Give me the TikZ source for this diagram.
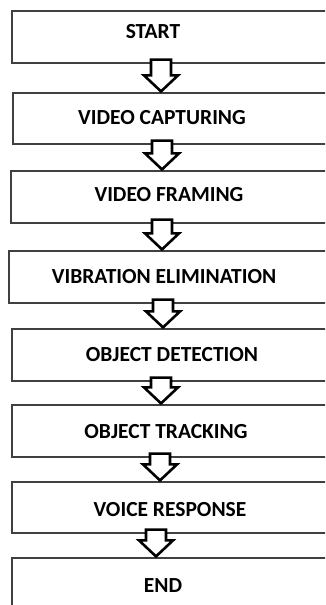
\documentclass[tikz,border=0pt]{standalone}
\usepackage{fontspec}
\setmainfont{Carlito}
\usetikzlibrary{calc}
\begin{document}
\begin{tikzpicture}[x=1pt,y=-1pt,
  box/.style={draw=black!75, line width=1.2pt, rectangle, inner sep=0pt, fill=white},
  lbl/.style={font=\fontsize{21.5}{24}\selectfont\bfseries, inner sep=0pt, text=black},
  arr/.style={draw=black, line width=2.6pt, fill=white, line join=miter}]
\useasboundingbox (0,0) rectangle (325,605);
\clip (0,0) rectangle (325,605);
\fill[white] (0,0) rectangle (325,605);
% boxes: left, top, bottom ; right edge beyond picture
\node[box, minimum width=330pt, minimum height=52pt] (b1) at (177,37) {};
\node[box, minimum width=330pt, minimum height=51pt] (b2) at (178,118.5) {};
\node[box, minimum width=330pt, minimum height=52pt] (b3) at (176,197) {};
\node[box, minimum width=330pt, minimum height=52pt] (b4) at (174,277) {};
\node[box, minimum width=330pt, minimum height=52pt] (b5) at (177,355) {};
\node[box, minimum width=330pt, minimum height=52pt] (b6) at (177,431) {};
\node[box, minimum width=330pt, minimum height=51pt] (b7) at (177,507.5) {};
\node[box, minimum width=330pt, minimum height=80pt] (b8) at (177,598) {};
% labels
\node[lbl] (t1) at (153,32) {START};
\node[lbl] (t2) at (162,118) {VIDEO CAPTURING};
\node[lbl] (t3) at (169,195) {VIDEO FRAMING};
\node[lbl] (t4) at (164,277) {VIBRATION ELIMINATION};
\node[lbl] (t5) at (172,355) {OBJECT DETECTION};
\node[lbl] (t6) at (166,432) {OBJECT TRACKING};
\node[lbl] (t7) at (170,510) {VOICE RESPONSE};
\node[lbl] (t8) at (163,586) {END};
% block arrows between boxes
\foreach \a/\b/\cx in {b1/b2/161, b2/b3/162, b3/b4/162, b4/b5/163, b5/b6/161, b6/b7/160, b7/b8/156}{
  \draw[arr] let \p1=(\a.south), \p2=(\b.north) in
    ({\cx pt-10pt},{\y1+4pt}) -- ({\cx pt-10pt},{\y2+17pt}) -- ({\cx pt-17pt},{\y2+17pt})
    -- ({\cx pt},{\y2+1pt}) -- ({\cx pt+17pt},{\y2+17pt}) -- ({\cx pt+10pt},{\y2+17pt})
    -- ({\cx pt+10pt},{\y1+4pt}) -- cycle;
}
\end{tikzpicture}
\end{document}
